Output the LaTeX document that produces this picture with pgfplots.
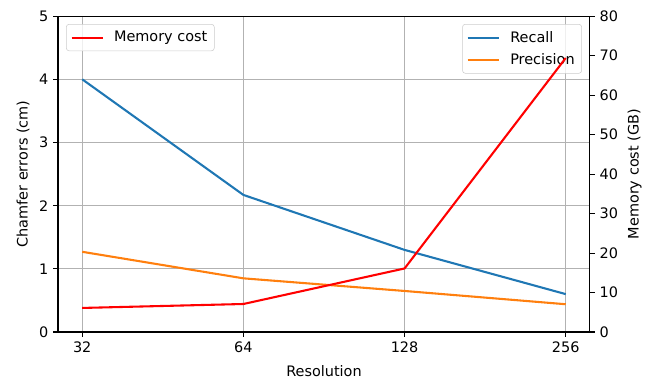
\documentclass[border=0pt]{standalone}
\usepackage{fontspec}
\setmainfont{DejaVu Sans}
\usepackage{pgfplots}
\pgfplotsset{compat=1.18}
\definecolor{mplblue}{HTML}{1F77B4}
\definecolor{mplorange}{HTML}{FF7F0E}
\begin{document}
\begin{tikzpicture}
\useasboundingbox (-41.8pt,-33.8pt) rectangle (427.7pt,239.1pt);
\pgfplotsset{
  common/.style={
    scale only axis, width=383pt, height=227.5pt,
    xmin=-0.15, xmax=3.15,
    tick align=outside,
    major tick length=3.5pt,
    axis line style={line width=0.8pt},
    every tick/.style={black, line width=0.8pt},
    /pgf/number format/assume math mode=true,
    tick label style={font=\fontsize{10.4}{12}\selectfont},
    label style={font=\fontsize{10.4}{12}\selectfont},
    legend style={font=\fontsize{10.4}{12}\selectfont, draw=black!20, rounded corners=2pt, fill=white, fill opacity=0.8, text opacity=1, inner xsep=3pt, inner ysep=3pt, row sep=2.5pt},
    legend cell align=left,
    legend image code/.code={\draw[#1] (0cm,0cm) -- (0.8cm,0cm); \path (0.98cm,0cm);},
  }
}
\begin{axis}[
  common,
  ymin=0, ymax=5,
  xtick={0,1,2,3}, xticklabels={32,64,128,256},
  ytick={0,1,2,3,4,5},
  grid=major, grid style={color=black!30, line width=0.6pt},
  axis x line*=bottom, axis y line*=left,
  xlabel={Resolution}, ylabel={Chamfer errors (cm)},
  xlabel style={yshift=-2pt},
  legend style={at={(0.985,0.975)}, anchor=north east},
]
\addplot[mplblue, line width=1.5pt] coordinates {(0,4.00) (1,2.17) (2,1.30) (3,0.60)};
\addlegendentry{Recall}
\addplot[mplorange, line width=1.5pt] coordinates {(0,1.27) (1,0.85) (2,0.65) (3,0.44)};
\addlegendentry{Precision}
\draw[line width=0.8pt] (rel axis cs:0,1) -- (rel axis cs:1,1);
\end{axis}
\begin{axis}[
  common,
  ymin=0, ymax=80,
  ytick={0,10,20,30,40,50,60,70,80},
  axis x line=none, axis y line*=right,
  ylabel={Memory cost (GB)},
  legend style={at={(0.015,0.975)}, anchor=north west},
]
\addplot[red, line width=1.5pt] coordinates {(0,6.1) (1,7.1) (2,16.1) (3,69.4)};
\addlegendentry{Memory cost}
\end{axis}
\end{tikzpicture}
\end{document}
